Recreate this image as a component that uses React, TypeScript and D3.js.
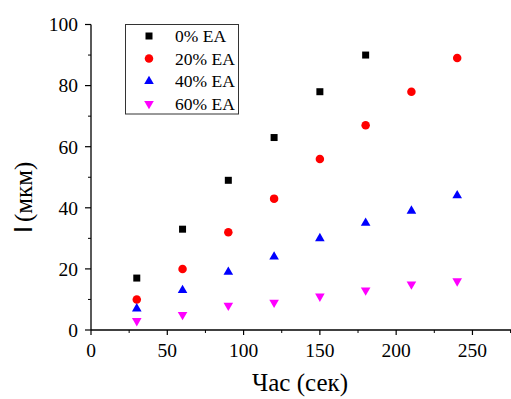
import React from "react";
import * as d3 from "d3";

const times = [30, 60, 90, 120, 150, 180, 210, 240];
const ea0 = [17, 33, 49, 63, 78, 90];
const ea20 = [10, 20, 32, 43, 56, 67, 78, 89];
const ea40 = [7, 13, 19, 24, 30, 35, 39, 44];
const ea60 = [3, 5, 8, 9, 11, 13, 15, 16];
const seriesNames = ["0% EA", "20% EA", "40% EA", "60% EA"];
const xTicks = [0, 50, 100, 150, 200, 250];
const yTicks = [0, 20, 40, 60, 80, 100];

const W = 511;
const H = 399;
const serif = "Liberation Serif";

export default function App() {
    const x = d3.scaleLinear().domain([0, 275]).range([91, 510.6]);
    const y = d3.scaleLinear().domain([0, 100]).range([330, 24.5]);

    const series = [
        { name: seriesNames[0], values: ea0, color: "#000000", type: d3.symbolSquare, size: 49, rot: 0 },
        { name: seriesNames[1], values: ea20, color: "#ff0000", type: d3.symbolCircle, size: 57, rot: 0 },
        { name: seriesNames[2], values: ea40, color: "#0000ff", type: d3.symbolTriangle, size: 40, rot: 0 },
        { name: seriesNames[3], values: ea60, color: "#ff00ff", type: d3.symbolTriangle, size: 40, rot: 180 },
    ];

    const xMinor = d3.range(25, 276, 50);
    const yMinor = d3.range(10, 100, 20);

    return (
        <svg width={W} height={H} style={{ position: "absolute", left: 0, top: 0, background: "#fff" }}>
            {/* axes */}
            <line x1={x(0)} x2={x(275) + 1} y1={y(0)} y2={y(0)} stroke="#000" strokeWidth={1.3} />
            <line x1={x(0)} x2={x(0)} y1={y(0)} y2={y(100)} stroke="#000" strokeWidth={1.3} />

            <g fontFamily={serif}>
                {xTicks.map(t => (
                    <g key={"xt" + t}>
                        <line x1={x(t)} x2={x(t)} y1={y(0)} y2={y(0) + 5} stroke="#000" strokeWidth={1.2} />
                        <text x={x(t)} y={357} textAnchor="middle" fontSize={19.5}>{t}</text>
                    </g>
                ))}
                {xMinor.map(t => (
                    <line key={"xm" + t} x1={x(t)} x2={x(t)} y1={y(0)} y2={y(0) + 3} stroke="#000" strokeWidth={1} />
                ))}
                {yTicks.map(t => (
                    <g key={"yt" + t}>
                        <line x1={x(0) - 6} x2={x(0)} y1={y(t)} y2={y(t)} stroke="#000" strokeWidth={1.2} />
                        <text x={78} y={y(t)} dy="0.35em" textAnchor="end" fontSize={19.5}>{t}</text>
                    </g>
                ))}
                {yMinor.map(t => (
                    <line key={"ym" + t} x1={x(0) - 3} x2={x(0)} y1={y(t)} y2={y(t)} stroke="#000" strokeWidth={1} />
                ))}

                {/* axis titles */}
                <text x={300} y={391} textAnchor="middle" fontSize={25}>Час (сек)</text>
                <text transform="translate(32,233) rotate(-90)" fontSize={25}>
                    <tspan fontFamily="Liberation Sans">I</tspan>
                    <tspan dx={4}>(мкм)</tspan>
                </text>
            </g>

            {/* points */}
            {series.map(s => (
                <g key={s.name}>
                    {s.values.map((v, i) => (
                        <path
                            key={i}
                            d={d3.symbol().type(s.type).size(s.size)() as string}
                            transform={`translate(${x(times[i])},${y(v)}) rotate(${s.rot})`}
                            fill={s.color}
                        />
                    ))}
                </g>
            ))}

            {/* legend */}
            <rect x={125.5} y={24.5} width={113} height={89.5} fill="#fff" stroke="#333" strokeWidth={1} />
            {series.map((s, i) => (
                <g key={"lg" + s.name} transform={`translate(0,${36 + i * 22.6})`}>
                    <path
                        d={d3.symbol().type(s.type).size(s.size)() as string}
                        transform={`translate(149,0) rotate(${s.rot})`}
                        fill={s.color}
                    />
                    <text x={175} y={0} dy="0.35em" fontFamily={serif} fontSize={17.5}>{s.name}</text>
                </g>
            ))}
        </svg>
    );
}
